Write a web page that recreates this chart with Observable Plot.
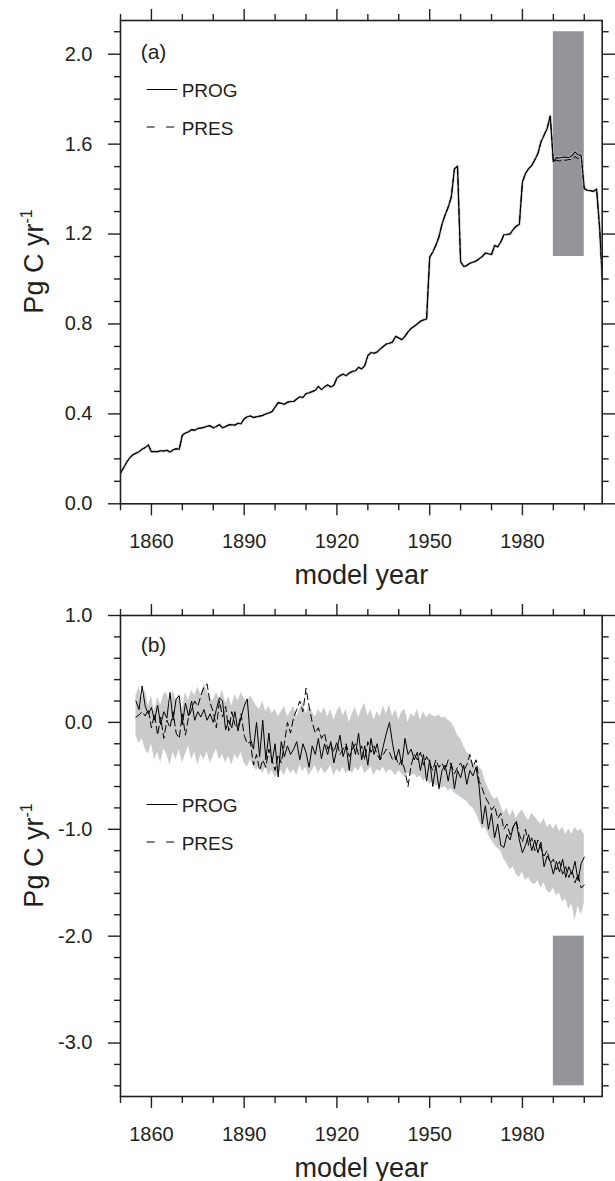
<!DOCTYPE html>
<html><head><meta charset="utf-8">
<script src="https://cdn.jsdelivr.net/npm/d3@7"></script>
<script src="https://cdn.jsdelivr.net/npm/@observablehq/plot@0.6"></script>
<style>
body{margin:0;background:#fff;}
#chart{width:615px;}
#chart svg{display:block;}
</style></head><body><div id="chart"></div>
<script>
// ---------- data ----------
const yearsA = d3.range(1850, 2007);
const progA = [
0.136,0.160,0.185,0.205,0.218,0.225,0.232,0.243,0.250,0.262,
0.232,0.233,0.232,0.236,0.235,0.238,0.230,0.240,0.245,0.243,
0.305,0.315,0.320,0.330,0.327,0.335,0.337,0.340,0.345,0.347,
0.338,0.344,0.352,0.338,0.344,0.351,0.352,0.350,0.358,0.356,
0.378,0.387,0.391,0.384,0.387,0.390,0.393,0.400,0.404,0.410,
0.430,0.450,0.447,0.443,0.452,0.455,0.455,0.466,0.476,0.473,
0.490,0.494,0.499,0.505,0.522,0.508,0.520,0.529,0.520,0.527,
0.560,0.570,0.577,0.570,0.582,0.589,0.592,0.607,0.600,0.615,
0.659,0.673,0.670,0.675,0.689,0.700,0.711,0.714,0.720,0.745,
0.738,0.730,0.745,0.765,0.780,0.790,0.800,0.812,0.818,0.822,
1.097,1.120,1.150,1.187,1.245,1.285,1.320,1.365,1.490,1.502,
1.077,1.056,1.060,1.070,1.075,1.080,1.090,1.100,1.115,1.112,
1.109,1.149,1.143,1.165,1.197,1.198,1.200,1.220,1.235,1.243,
1.432,1.470,1.491,1.505,1.530,1.558,1.610,1.640,1.670,1.725,
1.521,1.540,1.538,1.542,1.543,1.540,1.548,1.566,1.552,1.551,
1.402,1.395,1.393,1.390,1.400,1.220,0.950];
const presA = [
0.136,0.160,0.185,0.205,0.218,0.225,0.232,0.243,0.250,0.262,
0.232,0.233,0.232,0.236,0.235,0.238,0.230,0.240,0.245,0.243,
0.305,0.315,0.320,0.330,0.327,0.335,0.337,0.340,0.345,0.347,
0.338,0.344,0.352,0.338,0.344,0.351,0.352,0.350,0.358,0.356,
0.378,0.387,0.391,0.384,0.387,0.390,0.393,0.400,0.404,0.410,
0.430,0.450,0.447,0.443,0.452,0.455,0.455,0.466,0.476,0.473,
0.490,0.494,0.499,0.505,0.522,0.508,0.520,0.529,0.520,0.527,
0.560,0.570,0.577,0.570,0.582,0.589,0.592,0.607,0.600,0.615,
0.659,0.673,0.670,0.675,0.689,0.700,0.711,0.714,0.720,0.745,
0.738,0.730,0.745,0.765,0.780,0.790,0.800,0.812,0.818,0.822,
1.097,1.120,1.150,1.187,1.245,1.285,1.320,1.365,1.490,1.502,
1.077,1.056,1.060,1.070,1.075,1.080,1.090,1.100,1.115,1.112,
1.109,1.149,1.143,1.165,1.197,1.198,1.200,1.220,1.235,1.243,
1.432,1.470,1.491,1.505,1.530,1.558,1.610,1.640,1.670,1.725,
1.521,1.528,1.525,1.530,1.528,1.532,1.530,1.545,1.535,1.548,
1.402,1.395,1.393,1.390,1.400,1.220,0.950];

const yearsB = d3.range(1855, 2001);
const progB = [
0.20,0.12,0.34,0.15,0.08,0.14,0.02,0.16,-0.02,0.10,
0.04,0.28,0.02,0.22,0.25,-0.02,0.18,0.06,0.20,0.02,
0.10,0.05,0.12,0.02,0.08,0.00,0.12,0.23,0.20,-0.07,
0.02,-0.05,0.10,-0.08,0.05,0.15,0.22,-0.15,-0.25,0.00,
-0.32,0.02,-0.35,-0.10,-0.38,-0.20,-0.51,-0.18,-0.32,-0.22,
-0.30,-0.25,-0.18,-0.35,-0.20,-0.28,-0.42,-0.22,-0.30,-0.15,
-0.34,-0.20,-0.30,-0.18,-0.38,-0.25,-0.12,-0.32,-0.22,-0.45,
-0.18,-0.30,-0.10,-0.35,-0.22,-0.40,-0.15,-0.30,-0.20,-0.35,
-0.22,-0.10,0.00,-0.20,-0.35,-0.25,-0.40,-0.15,-0.30,-0.25,
-0.35,-0.28,-0.45,-0.30,-0.55,-0.35,-0.60,-0.40,-0.62,-0.45,
-0.40,-0.55,-0.38,-0.62,-0.45,-0.52,-0.40,-0.58,-0.45,-0.50,
-0.42,-0.60,-0.95,-0.78,-1.00,-0.85,-1.08,-0.95,-1.15,-1.17,
-1.05,-1.10,-0.98,-0.93,-1.10,-1.22,-1.15,-1.05,-1.20,-1.10,
-1.22,-1.12,-1.35,-1.25,-1.30,-1.42,-1.30,-1.40,-1.28,-1.45,
-1.35,-1.42,-1.30,-1.48,-1.32,-1.26];
const presB = [
0.05,0.07,0.10,0.06,0.12,-0.05,0.08,-0.12,0.05,-0.15,
0.02,-0.05,0.10,-0.10,-0.15,0.08,-0.12,0.05,0.12,0.20,
0.15,0.25,0.33,0.36,0.18,0.10,-0.05,0.20,0.05,0.15,
-0.08,0.10,-0.02,-0.05,0.08,-0.12,-0.20,-0.18,-0.40,-0.30,
-0.45,-0.35,-0.42,-0.25,-0.35,-0.45,-0.30,-0.38,-0.20,0.00,
-0.10,0.05,0.12,0.20,0.10,0.32,0.15,0.00,-0.10,-0.05,
-0.15,-0.10,-0.25,-0.20,-0.28,-0.18,-0.30,-0.25,-0.20,-0.32,
-0.25,-0.20,-0.30,-0.22,-0.35,-0.18,-0.28,-0.22,-0.30,-0.35,
-0.30,-0.25,-0.28,-0.35,-0.32,-0.40,-0.35,-0.45,-0.60,-0.40,
-0.30,-0.35,-0.28,-0.40,-0.32,-0.38,-0.45,-0.35,-0.42,-0.38,
-0.45,-0.35,-0.40,-0.48,-0.42,-0.38,-0.45,-0.40,-0.30,-0.42,
-0.35,-0.55,-0.62,-0.70,-0.75,-0.82,-0.78,-0.90,-0.85,-1.00,
-0.95,-1.05,-0.98,-0.92,-1.05,-1.12,-1.00,-1.15,-1.08,-1.20,
-1.10,-1.18,-1.25,-1.20,-1.32,-1.28,-1.38,-1.30,-1.42,-1.35,
-1.45,-1.38,-1.50,-1.42,-1.55,-1.52];
const hiB = [
0.25,0.33,0.22,0.30,0.15,0.25,0.10,0.24,0.16,0.26,
0.28,0.15,0.30,0.20,0.26,0.12,0.28,0.20,0.30,0.25,
0.33,0.26,0.36,0.30,0.22,0.20,0.28,0.22,0.30,0.18,
0.24,0.15,0.26,0.20,0.28,0.22,0.18,0.25,0.20,0.15,
0.12,0.20,0.10,0.15,0.08,0.12,0.05,0.10,0.15,0.05,
0.10,0.15,0.05,0.12,0.18,0.08,0.15,0.10,0.05,0.12,
0.08,0.14,0.05,0.12,0.02,0.10,0.15,0.06,0.12,0.00,
0.08,0.14,0.04,0.12,0.18,0.06,0.12,0.02,0.10,0.05,
0.15,0.08,0.16,0.05,0.12,0.02,0.10,0.12,0.00,0.08,
0.05,0.12,0.02,0.10,0.04,0.08,0.06,0.05,0.07,0.04,
0.05,0.02,0.00,-0.05,-0.12,-0.15,-0.22,-0.28,-0.30,-0.38,
-0.40,-0.42,-0.45,-0.55,-0.62,-0.68,-0.72,-0.70,-0.78,-0.85,
-0.80,-0.88,-0.82,-0.90,-0.85,-0.82,-0.88,-0.92,-0.85,-0.88,
-0.92,-0.95,-0.90,-0.98,-0.95,-1.00,-0.95,-1.02,-0.98,-1.05,
-1.00,-1.05,-0.98,-1.02,-1.00,-1.05];
const loB = [
-0.12,-0.20,-0.15,-0.25,-0.30,-0.20,-0.35,-0.28,-0.38,-0.25,
-0.30,-0.40,-0.28,-0.35,-0.25,-0.38,-0.30,-0.22,-0.35,-0.28,
-0.40,-0.30,-0.35,-0.28,-0.38,-0.32,-0.25,-0.35,-0.30,-0.38,
-0.32,-0.40,-0.30,-0.35,-0.28,-0.38,-0.42,-0.35,-0.40,-0.45,
-0.40,-0.48,-0.42,-0.50,-0.45,-0.52,-0.48,-0.45,-0.50,-0.42,
-0.48,-0.44,-0.50,-0.40,-0.46,-0.42,-0.50,-0.45,-0.40,-0.48,
-0.42,-0.48,-0.45,-0.40,-0.50,-0.44,-0.47,-0.42,-0.48,-0.44,
-0.48,-0.42,-0.46,-0.40,-0.48,-0.45,-0.42,-0.50,-0.44,-0.46,
-0.42,-0.48,-0.44,-0.46,-0.50,-0.45,-0.48,-0.52,-0.47,-0.50,
-0.48,-0.52,-0.50,-0.55,-0.52,-0.58,-0.55,-0.60,-0.58,-0.62,
-0.60,-0.64,-0.62,-0.66,-0.68,-0.70,-0.72,-0.74,-0.78,-0.80,
-0.85,-0.92,-1.00,-0.98,-1.05,-1.10,-1.15,-1.18,-1.20,-1.28,
-1.32,-1.38,-1.35,-1.42,-1.45,-1.40,-1.48,-1.45,-1.50,-1.52,
-1.48,-1.55,-1.50,-1.58,-1.60,-1.55,-1.62,-1.60,-1.68,-1.65,
-1.75,-1.70,-1.85,-1.72,-1.80,-1.70];

const obsBoxes = [
  {panel: "a", x1: 1990, x2: 2000, y1: 1.1, y2: 2.1},
  {panel: "b", x1: 1990, x2: 2000, y1: -3.4, y2: -2.0}
];
const majorX = [1860, 1890, 1920, 1950, 1980];
const minorX = [1850, 1870, 1880, 1900, 1910, 1930, 1940, 1960, 1970, 1990, 2000];
const majorYA = [0, 0.4, 0.8, 1.2, 1.6, 2.0];
const minorYA = [0.1,0.2,0.3,0.5,0.6,0.7,0.9,1.0,1.1,1.3,1.4,1.5,1.7,1.8,1.9,2.1];
const majorYB = [-3, -2, -1, 0, 1];
const minorYB = [-3.4,-3.2,-2.8,-2.6,-2.4,-2.2,-1.8,-1.6,-1.4,-1.2,-0.8,-0.6,-0.4,-0.2,0.2,0.4,0.6,0.8];
const seriesNames = ["PROG", "PRES"];
const panelLabels = ["(a)", "(b)"];
const xLabel = "model year";

// ---------- build ----------
const INK = "#231f20";
const FONT = "'Liberation Sans', Arial, Helvetica, sans-serif";
const rowsA = yearsA.map((y, i) => ({year: y, prog: progA[i], pres: presA[i]}));
const rowsB = yearsB.map((y, i) => ({year: y, prog: progB[i], pres: presB[i], lo: loB[i], hi: hiB[i]}));
const fmt = d => d.toFixed(1);

function axes(majorY, minorY) {
  const tick = {stroke: INK, strokeWidth: 1.4};
  return [
    Plot.axisX({ticks: majorX, anchor: "bottom", tickSize: 12, tickPadding: 18, fontSize: 20, tickFormat: d => String(d), label: null, ...tick}),
    Plot.axisX({ticks: minorX, anchor: "bottom", tickSize: 7, tickFormat: () => "", label: null, ...tick}),
    Plot.axisX({ticks: majorX, anchor: "top", tickSize: 12, tickFormat: () => "", label: null, ...tick}),
    Plot.axisX({ticks: minorX, anchor: "top", tickSize: 7, tickFormat: () => "", label: null, ...tick}),
    Plot.axisY({ticks: majorY, anchor: "left", tickSize: 12, tickPadding: 16, fontSize: 20, tickFormat: fmt, label: null, ...tick}),
    Plot.axisY({ticks: minorY, anchor: "left", tickSize: 6, tickFormat: () => "", label: null, ...tick}),
    Plot.axisY({ticks: majorY, anchor: "right", tickSize: 13, tickFormat: () => "", label: null, ...tick}),
    Plot.axisY({ticks: minorY, anchor: "right", tickSize: 6, tickFormat: () => "", label: null, ...tick}),
    Plot.frame({stroke: INK, strokeWidth: 1.6}),
    Plot.text([xLabel], {frameAnchor: "bottom", dy: 72, fontSize: 27, fill: INK, lineAnchor: "middle"})
  ];
}

const common = {
  width: 615, marginLeft: 120, marginRight: 13.3, marginTop: 20,
  x: {domain: [1850, 2005.8]},
  style: {fontFamily: FONT, color: INK, background: "#fff", overflow: "visible"}
};

const chartA = Plot.plot({
  ...common, height: 595, marginBottom: 91.7,
  y: {domain: [0, 2.15]},
  marks: [
    Plot.rect(obsBoxes.filter(d => d.panel === "a"), {x1: "x1", x2: "x2", y1: "y1", y2: "y2", fill: "#939598"}),
    Plot.lineY(rowsA, {x: "year", y: "prog", stroke: "#c6c7c9", strokeWidth: 2.6, clip: true}),
    Plot.lineY(rowsA, {x: "year", y: "pres", stroke: "#000", strokeWidth: 1, strokeDasharray: "6,4", clip: true}),
    Plot.lineY(rowsA, {x: "year", y: "prog", stroke: "#000", strokeWidth: 1.1, clip: true}),
    ...axes(majorYA, minorYA)
  ]
});

const chartB = Plot.plot({
  ...common, height: 586, marginBottom: 85,
  y: {domain: [-3.5, 1.0]},
  marks: [
    Plot.rect(obsBoxes.filter(d => d.panel === "b"), {x1: "x1", x2: "x2", y1: "y1", y2: "y2", fill: "#939598"}),
    Plot.areaY(rowsB, {x: "year", y1: "lo", y2: "hi", fill: "#c9cacc"}),
    Plot.lineY(rowsB, {x: "year", y: "pres", stroke: "#000", strokeWidth: 1, strokeDasharray: "7,4"}),
    Plot.lineY(rowsB, {x: "year", y: "prog", stroke: "#000", strokeWidth: 1}),
    ...axes(majorYB, minorYB)
  ]
});

function decorate(svgNode, label, panelTopY, legendY, labelBaseline) {
  const svg = d3.select(svgNode);
  const g = svg.append("g").attr("text-anchor", "start").attr("font-family", FONT).attr("fill", INK);
  // y-axis title with superscript
  const t = g.append("text")
    .attr("transform", `translate(36,${panelTopY}) rotate(-90)`)
    .attr("text-anchor", "middle").attr("dominant-baseline", "middle")
    .attr("font-size", 27);
  t.append("tspan").text("Pg C yr");
  t.append("tspan").attr("baseline-shift", "super").attr("font-size", 16).text("-1");
  // panel label
  g.append("text").attr("x", 140.7).attr("y", labelBaseline).attr("text-anchor", "start")
    .attr("font-size", 21).text(label);
  // legend
  seriesNames.forEach((name, i) => {
    const y = legendY + i * 37.5;
    g.append("line").attr("x1", 146.7).attr("x2", 177.3).attr("y1", y).attr("y2", y)
      .attr("stroke", "#000").attr("stroke-width", 1)
      .attr("stroke-dasharray", i === 1 ? "8,11.5" : null);
    g.append("text").attr("x", 181.7).attr("y", y + 7.5).attr("text-anchor", "start")
      .attr("font-size", 19).text(name);
  });
}
decorate(chartA, panelLabels[0], 261.5, 89.5, 59);
decorate(chartB, panelLabels[1], 260.5, 209.5, 57.3);

document.getElementById("chart").append(chartA, chartB);
</script>
</body></html>
